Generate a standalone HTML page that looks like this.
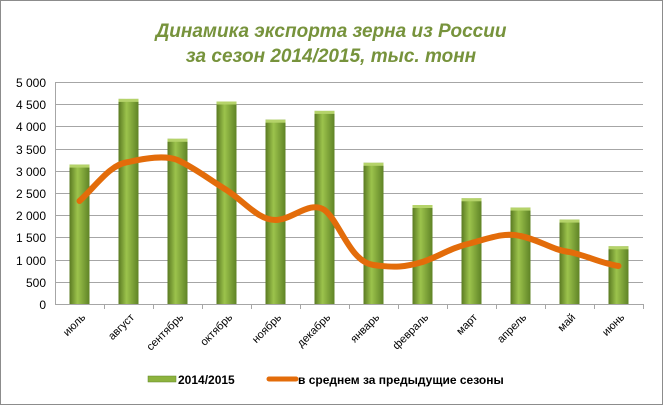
<!DOCTYPE html>
<html><head><meta charset="utf-8"><style>
body{margin:0;background:#fff}
svg{display:block}
text{font-family:"Liberation Sans",sans-serif}
</style></head><body>
<svg width="663" height="405" viewBox="0 0 663 405" xmlns="http://www.w3.org/2000/svg">
<defs>
<linearGradient id="bg" x1="0" x2="1" y1="0" y2="0">
<stop offset="0" stop-color="#5a7a22"/><stop offset="0.4" stop-color="#9cc34c"/><stop offset="1" stop-color="#5f8326"/>
</linearGradient>
</defs>
<rect x="0.5" y="0.5" width="662" height="404" fill="#fff" stroke="#8c8c8c"/>
<text x="331" y="37" text-anchor="middle" font-size="19" font-weight="bold" font-style="italic" fill="#77933c">Динамика экспорта зерна из России</text>
<text x="331" y="62" text-anchor="middle" font-size="19" font-weight="bold" font-style="italic" fill="#77933c">за сезон 2014/2015, тыс. тонн</text>
<g stroke="#a6a6a6" stroke-width="1">
<line x1="55" x2="643" y1="82.5" y2="82.5"/><line x1="55" x2="643" y1="104.5" y2="104.5"/>
<line x1="55" x2="643" y1="126.5" y2="126.5"/><line x1="55" x2="643" y1="149.5" y2="149.5"/>
<line x1="55" x2="643" y1="171.5" y2="171.5"/><line x1="55" x2="643" y1="193.5" y2="193.5"/>
<line x1="55" x2="643" y1="215.5" y2="215.5"/><line x1="55" x2="643" y1="237.5" y2="237.5"/>
<line x1="55" x2="643" y1="260.5" y2="260.5"/><line x1="55" x2="643" y1="282.5" y2="282.5"/>
<line x1="55" x2="643" y1="304.5" y2="304.5"/>
<line x1="55.5" x2="55.5" y1="82" y2="304"/>
</g>
<g font-size="12" fill="#000" text-anchor="end">
<text x="46" y="87">5 000</text><text x="46" y="109">4 500</text><text x="46" y="131">4 000</text>
<text x="46" y="154">3 500</text><text x="46" y="176">3 000</text><text x="46" y="198">2 500</text>
<text x="46" y="220">2 000</text><text x="46" y="242">1 500</text><text x="46" y="265">1 000</text>
<text x="46" y="287">500</text><text x="46" y="309">0</text>
</g>
<g fill="url(#bg)">
<rect x="69.5" y="164.6" width="20" height="139.4"/>
<rect x="118.5" y="98.9" width="20" height="205.1"/>
<rect x="167.5" y="138.8" width="20" height="165.2"/>
<rect x="216.5" y="101.5" width="20" height="202.5"/>
<rect x="265.5" y="119.7" width="20" height="184.3"/>
<rect x="314.5" y="110.9" width="20" height="193.1"/>
<rect x="363.5" y="162.8" width="20" height="141.2"/>
<rect x="412.5" y="205" width="20" height="99"/>
<rect x="461.5" y="198.3" width="20" height="105.7"/>
<rect x="510.5" y="207.6" width="20" height="96.4"/>
<rect x="559.5" y="219.6" width="20" height="84.4"/>
<rect x="608.5" y="246.3" width="20" height="57.7"/>
</g>
<g fill="#b5d36a">
<rect x="69.5" y="164.6" width="20" height="3"/><rect x="118.5" y="98.9" width="20" height="3"/>
<rect x="167.5" y="138.8" width="20" height="3"/><rect x="216.5" y="101.5" width="20" height="3"/>
<rect x="265.5" y="119.7" width="20" height="3"/><rect x="314.5" y="110.9" width="20" height="3"/>
<rect x="363.5" y="162.8" width="20" height="3"/><rect x="412.5" y="205" width="20" height="3"/>
<rect x="461.5" y="198.3" width="20" height="3"/><rect x="510.5" y="207.6" width="20" height="3"/>
<rect x="559.5" y="219.6" width="20" height="3"/><rect x="608.5" y="246.3" width="20" height="3"/>
</g>
<g stroke="#a6a6a6">
<line x1="104.5" x2="104.5" y1="304" y2="309"/><line x1="153.5" x2="153.5" y1="304" y2="309"/>
<line x1="202.5" x2="202.5" y1="304" y2="309"/><line x1="251.5" x2="251.5" y1="304" y2="309"/>
<line x1="300.5" x2="300.5" y1="304" y2="309"/><line x1="349.5" x2="349.5" y1="304" y2="309"/>
<line x1="398.5" x2="398.5" y1="304" y2="309"/><line x1="447.5" x2="447.5" y1="304" y2="309"/>
<line x1="496.5" x2="496.5" y1="304" y2="309"/><line x1="545.5" x2="545.5" y1="304" y2="309"/>
<line x1="594.5" x2="594.5" y1="304" y2="309"/><line x1="643.5" x2="643.5" y1="304" y2="309"/>
</g>
<path d="M79.5,201 C96,186 110,164 128.5,162 C146,158 165,155 177.5,160 C195,168 210,180 226.5,190 C245,202 258,220 275.5,220 C292,220 310,200 324.5,210 C340,222 350,262 373.5,265 C395,268 405,267 422.5,262 C440,256 450,248 471.5,243 C490,238 505,232 520.5,236 C540,240 552,250 569.5,252 C588,256 600,263 618.5,266" fill="none" stroke="#e36c0a" stroke-width="6" stroke-linecap="round"/>
<g font-size="11" fill="#000" text-anchor="end">
<text transform="translate(86,318) rotate(-45)">июль</text>
<text transform="translate(135,318) rotate(-45)">август</text>
<text transform="translate(184,318) rotate(-45)">сентябрь</text>
<text transform="translate(233,318) rotate(-45)">октябрь</text>
<text transform="translate(282,318) rotate(-45)">ноябрь</text>
<text transform="translate(331,318) rotate(-45)">декабрь</text>
<text transform="translate(380,318) rotate(-45)">январь</text>
<text transform="translate(429,318) rotate(-45)">февраль</text>
<text transform="translate(478,318) rotate(-45)">март</text>
<text transform="translate(527,318) rotate(-45)">апрель</text>
<text transform="translate(576,318) rotate(-45)">май</text>
<text transform="translate(625,318) rotate(-45)">июнь</text>
</g>
<rect x="148" y="376" width="28" height="6" fill="#8db33e" stroke="#5f8326" stroke-width="0.5"/>
<text x="178" y="384" font-size="12" font-weight="bold">2014/2015</text>
<line x1="269" x2="296" y1="379" y2="379" stroke="#e36c0a" stroke-width="5" stroke-linecap="round"/>
<text x="298" y="384" font-size="12" font-weight="bold">в среднем за предыдущие сезоны</text>
</svg>
</body></html>
